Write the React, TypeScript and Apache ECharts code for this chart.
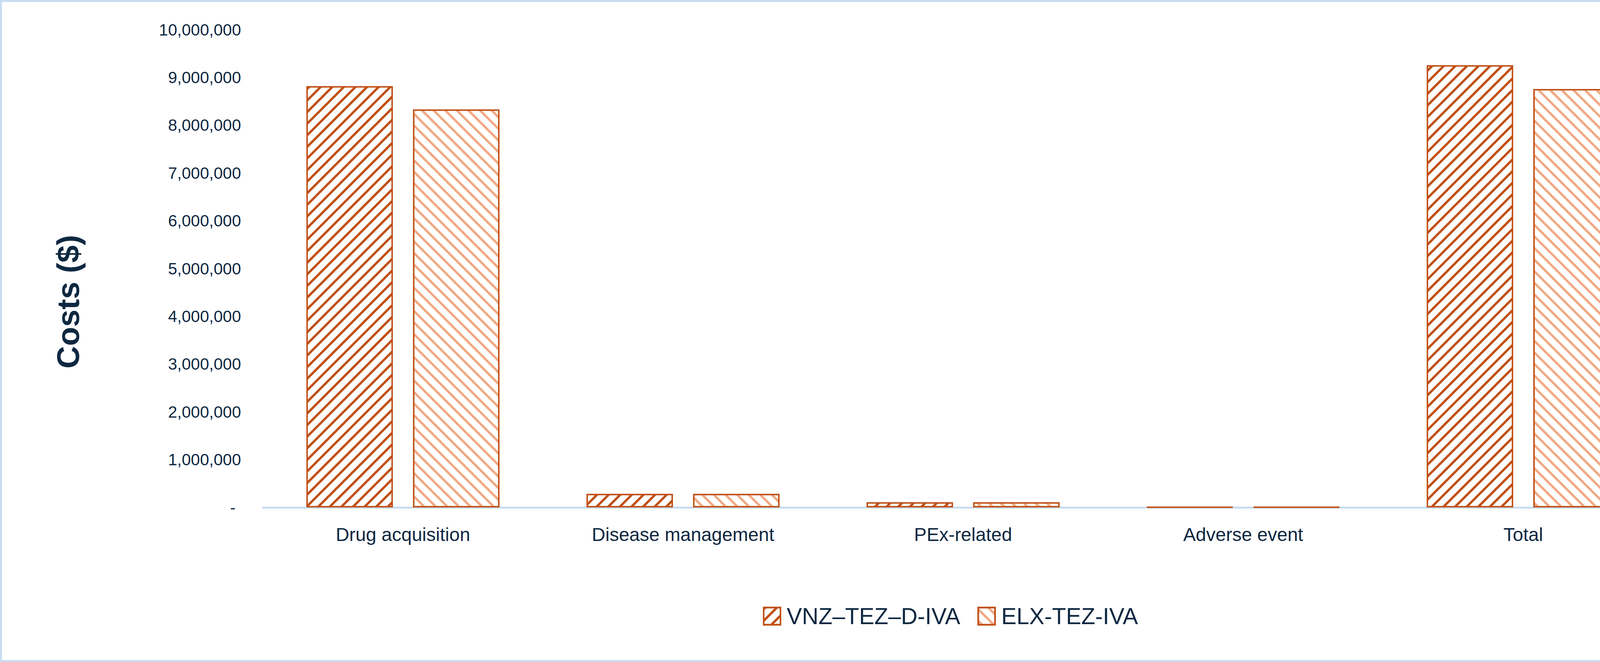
import React, { useEffect, useRef } from 'react';
import * as echarts from 'echarts';

// categories and costs
const categories = ['Drug acquisition', 'Disease management', 'PEx-related', 'Adverse event', 'Total'];
const seriesNames = ['VNZ–TEZ–D-IVA', 'ELX-TEZ-IVA'];
const vnzCosts = [8818000, 284000, 108000, 10000, 9256000];
const elxCosts = [8330000, 284000, 108000, 10000, 8758000];

// y axis ticks
const yMin = 0;
const yMax = 10000000;
const yStep = 1000000;

const FONT = '"Liberation Sans", Arial, sans-serif';
const TEXT = '#0E2841';
const RUST = '#C04F15';
const PEACH = '#F1A983';
const FRAME = '#C8DCF1';

const App: React.FC = () => {
  const chartRef = useRef<HTMLDivElement>(null);

  useEffect(() => {
    if (!chartRef.current) return;
    const chart = echarts.init(chartRef.current, null, { renderer: 'svg' });

    const option: echarts.EChartsOption = {
      animation: false,
      backgroundColor: '#FFFFFF',
      textStyle: { fontFamily: FONT },
      grid: { left: 673, right: 122, top: 76, bottom: 396, containLabel: false },
      legend: {
        data: seriesNames,
        left: 1948,
        top: 1544,
        icon: 'rect',
        itemWidth: 43,
        itemHeight: 44,
        itemGap: 44,
        itemStyle: { borderWidth: 4 },
        textStyle: { fontSize: 58.5, color: TEXT, fontFamily: FONT, padding: [0, 0, 0, 11] },
      },
      xAxis: {
        type: 'category',
        data: categories,
        offset: 2.5,
        axisLine: { lineStyle: { color: FRAME, width: 5 } },
        axisTick: { show: false },
        axisLabel: { fontSize: 48, color: TEXT, margin: 43, interval: 0, fontFamily: FONT },
      },
      yAxis: {
        type: 'value',
        min: yMin,
        max: yMax,
        interval: yStep,
        axisLine: { show: false },
        axisTick: { show: false },
        splitLine: { show: false },
        axisLabel: {
          fontSize: 42,
          color: TEXT,
          margin: 56,
          fontFamily: FONT,
          formatter: (v: number) => (v === 0 ? '{dash|-}' : v.toLocaleString('en-US')),
          rich: { dash: { padding: [0, 14, 0, 0], fontSize: 42, color: TEXT } },
        },
      },
      series: [
        {
          name: seriesNames[0],
          type: 'bar',
          data: vnzCosts,
          barWidth: 221,
          barGap: '23.5%',
          itemStyle: {
            color: '#FFFFFF',
            borderColor: RUST,
            borderWidth: 3.5,
            decal: {
              symbol: 'rect',
              symbolSize: 1,
              dashArrayX: [1, 0],
              dashArrayY: [6, 15],
              rotation: -Math.PI / 4,
              color: RUST,
            },
          },
        },
        {
          name: seriesNames[1],
          type: 'bar',
          data: elxCosts,
          barWidth: 221,
          itemStyle: {
            color: '#FFFFFF',
            borderColor: RUST,
            borderWidth: 3.5,
            decal: {
              symbol: 'rect',
              symbolSize: 1,
              dashArrayX: [1, 0],
              dashArrayY: [6, 15],
              rotation: Math.PI / 4,
              color: PEACH,
            },
          },
        },
      ],
      graphic: [
        {
          type: 'rect',
          silent: true,
          shape: { x: 2.5, y: 2.5, width: 4375, height: 1691 },
          style: { fill: 'none', stroke: FRAME, lineWidth: 5 },
        },
        {
          type: 'text',
          x: 174,
          y: 773,
          rotation: Math.PI / 2,
          style: {
            text: 'Costs ($)',
            fontSize: 80,
            fontWeight: 'bold',
            fontFamily: FONT,
            fill: TEXT,
            align: 'center',
            verticalAlign: 'middle',
          },
        },
      ],
    };

    chart.setOption(option);

    return () => {
      chart.dispose();
    };
  }, []);

  return (
    <div
      ref={chartRef}
      style={{ position: 'absolute', left: 0, top: 0, width: 4380, height: 1696 }}
    />
  );
};

export default App;
